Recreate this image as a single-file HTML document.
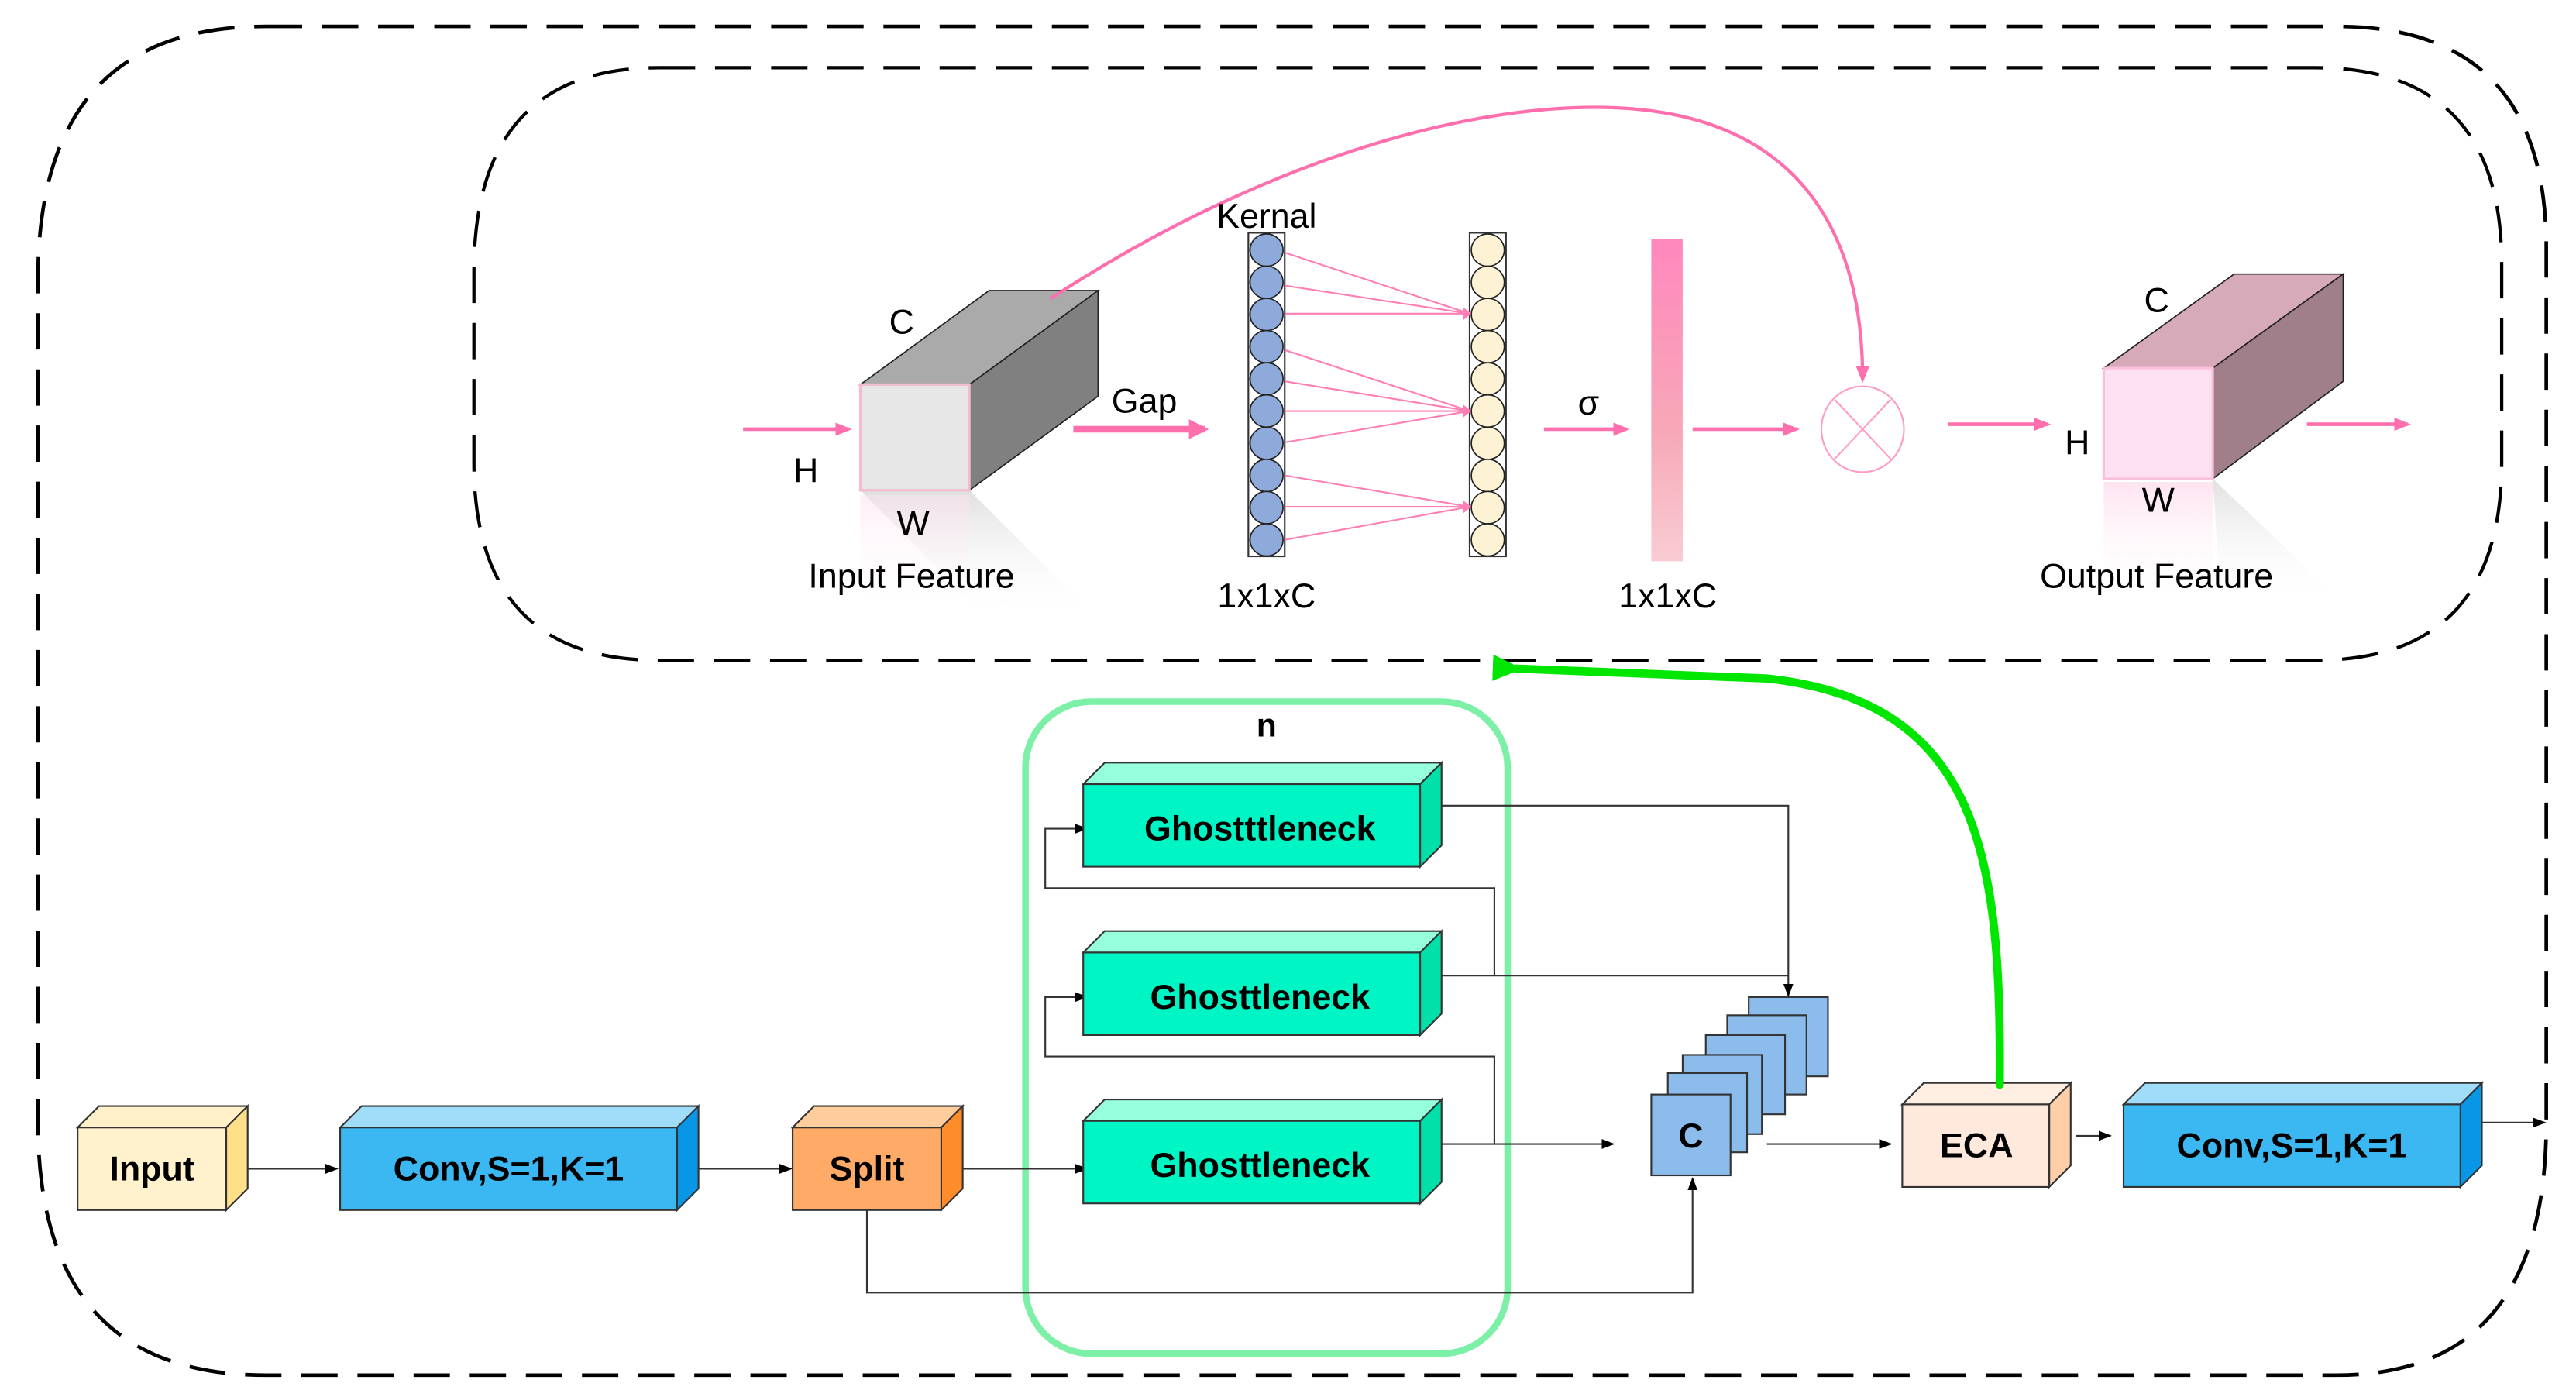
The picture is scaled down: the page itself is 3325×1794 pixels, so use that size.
<!DOCTYPE html>
<html><head><meta charset="utf-8"><style>
html,body{margin:0;padding:0;background:#fff;}
svg{display:block;}
text{font-family:"Liberation Sans",Arial,sans-serif;}
</style></head><body>
<svg width="3325" height="1794" viewBox="0 0 1560 842" preserveAspectRatio="none" xmlns="http://www.w3.org/2000/svg">
<defs>
<marker id="ab" markerWidth="8" markerHeight="8" refX="7" refY="4" orient="auto" markerUnits="userSpaceOnUse"><path d="M0,1 L8,4 L0,7 z" fill="#000"/></marker>
<marker id="ap" markerWidth="12" markerHeight="12" refX="10" refY="6" orient="auto" markerUnits="userSpaceOnUse"><path d="M0,0 L12,6 L0,12 z" fill="#ff6fae"/></marker>
<marker id="aps" markerWidth="10" markerHeight="10" refX="8" refY="5" orient="auto" markerUnits="userSpaceOnUse"><path d="M0,1 L10,5 L0,9 z" fill="#ff6fae"/></marker>
<marker id="ag" markerWidth="18" markerHeight="16" refX="4" refY="8" orient="auto" markerUnits="userSpaceOnUse"><path d="M0,8 L18,0 L18,16 z" fill="#00e600"/></marker>
<linearGradient id="bar" x1="0" y1="0" x2="0" y2="1"><stop offset="0" stop-color="#ff88bd"/><stop offset="0.6" stop-color="#f7a8b8"/><stop offset="1" stop-color="#f8ccd4"/></linearGradient>
<linearGradient id="refl" x1="0" y1="0" x2="0" y2="1"><stop offset="0" stop-color="#d8d8d8" stop-opacity="0.8"/><stop offset="1" stop-color="#ffffff" stop-opacity="0"/></linearGradient>
<linearGradient id="reflp" x1="0" y1="0" x2="0" y2="1"><stop offset="0" stop-color="#fde0ef" stop-opacity="0.9"/><stop offset="1" stop-color="#ffffff" stop-opacity="0"/></linearGradient>
</defs>

<path d="M161,16 L1415,16 Q1542,16 1542,150 L1542,680 Q1542,833 1415,833 L161,833 Q23,833 23,680 L23,169 Q23,16 161,16 Z" fill="none" stroke="#000" stroke-width="2.2" stroke-dasharray="22,12"/>
<path d="M399,41 L1402,41 Q1515,41 1515,160 L1515,280 Q1515,400 1402,400 L399,400 Q287,400 287,280 L287,165 Q287,41 399,41 Z" fill="none" stroke="#000" stroke-width="2" stroke-dasharray="22,12"/>

<polygon points="521,297 587,297 665,375 599,375" fill="url(#refl)"/>
<rect x="521" y="300" width="66" height="72" fill="url(#reflp)" opacity="0.6"/>
<polygon points="521,233 587,233 665,176 599,176" fill="#aaaaaa" stroke="#222" stroke-width="0.8"/>
<polygon points="587,233 665,176 665,240 587,297" fill="#808080" stroke="#222" stroke-width="0.8"/>
<rect x="521" y="233" width="66" height="64" fill="#e6e6e6" stroke="#f4bcd0" stroke-width="1.5"/>
<line x1="450" y1="260" x2="514" y2="260" stroke="#ff6fae" stroke-width="2.2" marker-end="url(#aps)"/>
<line x1="650" y1="260" x2="730" y2="260" stroke="#ff6fae" stroke-width="4" marker-end="url(#ap)"/>

<path d="M636,181 C760,100 880,65 966,65 C1080,65 1128,130 1128,230" fill="none" stroke="#ff6fae" stroke-width="2" marker-end="url(#aps)"/>

<rect x="756" y="141" width="22" height="196" fill="none" stroke="#333" stroke-width="1"/>
<rect x="890" y="141" width="22" height="196" fill="none" stroke="#333" stroke-width="1"/>
<g stroke="#222" stroke-width="0.8">
<ellipse cx="767" cy="151.5" rx="10" ry="9.8" fill="#8eaadb"/><ellipse cx="767" cy="171" rx="10" ry="9.8" fill="#8eaadb"/><ellipse cx="767" cy="190.5" rx="10" ry="9.8" fill="#8eaadb"/><ellipse cx="767" cy="210" rx="10" ry="9.8" fill="#8eaadb"/><ellipse cx="767" cy="229.5" rx="10" ry="9.8" fill="#8eaadb"/><ellipse cx="767" cy="249" rx="10" ry="9.8" fill="#8eaadb"/><ellipse cx="767" cy="268.5" rx="10" ry="9.8" fill="#8eaadb"/><ellipse cx="767" cy="288" rx="10" ry="9.8" fill="#8eaadb"/><ellipse cx="767" cy="307.5" rx="10" ry="9.8" fill="#8eaadb"/><ellipse cx="767" cy="327" rx="10" ry="9.8" fill="#8eaadb"/>
<ellipse cx="901" cy="151.5" rx="10" ry="9.8" fill="#fdf2d4"/><ellipse cx="901" cy="171" rx="10" ry="9.8" fill="#fdf2d4"/><ellipse cx="901" cy="190.5" rx="10" ry="9.8" fill="#fdf2d4"/><ellipse cx="901" cy="210" rx="10" ry="9.8" fill="#fdf2d4"/><ellipse cx="901" cy="229.5" rx="10" ry="9.8" fill="#fdf2d4"/><ellipse cx="901" cy="249" rx="10" ry="9.8" fill="#fdf2d4"/><ellipse cx="901" cy="268.5" rx="10" ry="9.8" fill="#fdf2d4"/><ellipse cx="901" cy="288" rx="10" ry="9.8" fill="#fdf2d4"/><ellipse cx="901" cy="307.5" rx="10" ry="9.8" fill="#fdf2d4"/><ellipse cx="901" cy="327" rx="10" ry="9.8" fill="#fdf2d4"/>
</g>
<g stroke="#ff7fb5" stroke-width="1">
<line x1="778" y1="153" x2="890" y2="190"/><line x1="778" y1="173" x2="890" y2="190"/><line x1="778" y1="190" x2="890" y2="190"/>
<line x1="778" y1="212" x2="890" y2="249"/><line x1="778" y1="231" x2="890" y2="249"/><line x1="778" y1="249" x2="890" y2="249"/><line x1="778" y1="268" x2="890" y2="249"/>
<line x1="778" y1="288" x2="890" y2="307"/><line x1="778" y1="307" x2="890" y2="307"/><line x1="778" y1="327" x2="890" y2="307"/>
</g>
<polygon points="886,186 891,190 886,194" fill="#ff7fb5"/>
<polygon points="886,245 891,249 886,253" fill="#ff7fb5"/>
<polygon points="886,303 891,307 886,311" fill="#ff7fb5"/>

<line x1="935" y1="260" x2="985" y2="260" stroke="#ff6fae" stroke-width="2.2" marker-end="url(#aps)"/>
<rect x="1000" y="145" width="19" height="195" fill="url(#bar)"/>
<line x1="1025" y1="260" x2="1088" y2="260" stroke="#ff6fae" stroke-width="2.2" marker-end="url(#aps)"/>
<ellipse cx="1128" cy="260" rx="25" ry="26" fill="none" stroke="#ff9cc6" stroke-width="1"/>
<line x1="1111" y1="242" x2="1145" y2="278" stroke="#ff9cc6" stroke-width="1"/>
<line x1="1145" y1="242" x2="1111" y2="278" stroke="#ff9cc6" stroke-width="1"/>
<line x1="1180" y1="257" x2="1240" y2="257" stroke="#ff6fae" stroke-width="2.2" marker-end="url(#aps)"/>

<polygon points="1340,290 1419,365 1345,365" fill="url(#refl)"/>
<rect x="1274" y="292" width="66" height="72" fill="url(#reflp)"/>
<polygon points="1274,223 1340,223 1419,166 1353,166" fill="#d7aab9" stroke="#222" stroke-width="0.8"/>
<polygon points="1340,223 1419,166 1419,231 1340,290" fill="#a07e8a" stroke="#222" stroke-width="0.8"/>
<rect x="1274" y="223" width="66" height="67" fill="#fde0f2" stroke="#f9c0dc" stroke-width="1.5"/>
<line x1="1397" y1="257" x2="1458" y2="257" stroke="#ff6fae" stroke-width="2.2" marker-end="url(#aps)"/>

<g font-size="21" text-anchor="middle">
<text x="546" y="202">C</text>
<text x="488" y="292">H</text>
<text x="553" y="324">W</text>
<text x="552" y="356">Input Feature</text>
<text x="693" y="250">Gap</text>
<text x="767" y="138">Kernal</text>
<text x="767" y="368">1x1xC</text>
<text x="962" y="251">σ</text>
<text x="1010" y="368">1x1xC</text>
<text x="1306" y="189">C</text>
<text x="1258" y="275">H</text>
<text x="1307" y="310">W</text>
<text x="1306" y="356">Output Feature</text>
</g>

<rect x="621" y="425" width="292" height="395" rx="40" ry="40" fill="none" stroke="#7df0a8" stroke-width="4"/>
<text x="767" y="446" font-size="20" font-weight="bold" text-anchor="middle">n</text>

<g stroke="#333" stroke-width="1" fill="none">
<line x1="137" y1="708" x2="204" y2="708" marker-end="url(#ab)"/>
<line x1="423" y1="708" x2="479" y2="708" marker-end="url(#ab)"/>
<line x1="570" y1="708" x2="658" y2="708" marker-end="url(#ab)"/>
<polyline points="525,733 525,783 1025,783 1025,714" marker-end="url(#ab)"/>
<polyline points="873,488 1083,488 1083,603" marker-end="url(#ab)"/>
<line x1="873" y1="591" x2="1083" y2="591"/>
<line x1="873" y1="693" x2="977" y2="693" marker-end="url(#ab)"/>
<polyline points="905,591 905,538 633,538 633,502 658,502" marker-end="url(#ab)"/>
<polyline points="905,693 905,640 633,640 633,604 658,604" marker-end="url(#ab)"/>
<line x1="1070" y1="693" x2="1145" y2="693" marker-end="url(#ab)"/>
<line x1="1257" y1="688" x2="1278" y2="688" marker-end="url(#ab)"/>
<line x1="1503" y1="680" x2="1541" y2="680" marker-end="url(#ab)"/>
</g>

<g stroke="#333" stroke-width="1">
<polygon points="47,683 137,683 150,670 60,670" fill="#fff0c8"/>
<polygon points="137,683 150,670 150,720 137,733" fill="#ffe08a"/>
<rect x="47" y="683" width="90" height="50" fill="#fff2cc"/>
<polygon points="206,683 410,683 423,670 219,670" fill="#9fdcf8"/>
<polygon points="410,683 423,670 423,720 410,733" fill="#0a96e6"/>
<rect x="206" y="683" width="204" height="50" fill="#3bb8f2"/>
<polygon points="480,683 570,683 583,670 493,670" fill="#ffcc9c"/>
<polygon points="570,683 583,670 583,720 570,733" fill="#ff8c2a"/>
<rect x="480" y="683" width="90" height="50" fill="#ffaa66"/>
<polygon points="656,475 860,475 873,462 669,462" fill="#96ffdc"/>
<polygon points="860,475 873,462 873,512 860,525" fill="#00e0a8"/>
<rect x="656" y="475" width="204" height="50" fill="#00f5c4"/>
<polygon points="656,577 860,577 873,564 669,564" fill="#96ffdc"/>
<polygon points="860,577 873,564 873,614 860,627" fill="#00e0a8"/>
<rect x="656" y="577" width="204" height="50" fill="#00f5c4"/>
<polygon points="656,679 860,679 873,666 669,666" fill="#96ffdc"/>
<polygon points="860,679 873,666 873,716 860,729" fill="#00e0a8"/>
<rect x="656" y="679" width="204" height="50" fill="#00f5c4"/>
<rect x="1059" y="604" width="48" height="48" fill="#8cbcec"/>
<rect x="1046" y="615" width="48" height="48" fill="#8cbcec"/>
<rect x="1033" y="627" width="48" height="48" fill="#8cbcec"/>
<rect x="1019" y="639" width="48" height="48" fill="#8cbcec"/>
<rect x="1010" y="650" width="48" height="48" fill="#8cbcec"/>
<rect x="1000" y="663" width="48" height="49" fill="#8cbcec"/>
<polygon points="1152,669 1241,669 1254,656 1165,656" fill="#ffeee2"/>
<polygon points="1241,669 1254,656 1254,706 1241,719" fill="#ffcfaa"/>
<rect x="1152" y="669" width="89" height="50" fill="#ffe9dc"/>
<polygon points="1286,669 1490,669 1503,656 1299,656" fill="#9fdcf8"/>
<polygon points="1490,669 1503,656 1503,706 1490,719" fill="#0a96e6"/>
<rect x="1286" y="669" width="204" height="50" fill="#3bb8f2"/>
</g>
<g font-size="21" font-weight="bold" text-anchor="middle">
<text x="92" y="715">Input</text>
<text x="308" y="715">Conv,S=1,K=1</text>
<text x="525" y="715">Split</text>
<text x="763" y="509">Ghostttleneck</text>
<text x="763" y="611">Ghosttleneck</text>
<text x="763" y="713">Ghosttleneck</text>
<text x="1024" y="695">C</text>
<text x="1197" y="701">ECA</text>
<text x="1388" y="701">Conv,S=1,K=1</text>
</g>

<path d="M1211,657 C1212,520 1200,425 1070,411 L918,405" fill="none" stroke="#00e600" stroke-width="5" stroke-linecap="round" marker-end="url(#ag)"/>
</svg>
</body></html>
